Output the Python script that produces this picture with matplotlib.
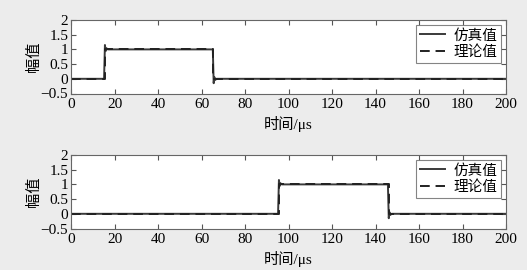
import matplotlib
matplotlib.use("Agg")
import matplotlib.pyplot as plt

plt.rcParams["font.family"] = ["Liberation Serif", "Noto Sans CJK SC"]
plt.rcParams["axes.unicode_minus"] = True

# simulated pulse (with edge ringing) and theoretical pulse, both panels
sim1_t = [0, 15.2, 15.6, 15.9, 16.3, 16.9, 65.2, 65.6, 65.9, 66.3, 66.9, 200]
sim1_y = [0, 0, 1.15, 0.94, 1.04, 1.0, 1.0, -0.15, 0.06, -0.04, 0, 0]
th1_t = [0, 15.5, 15.5, 65.5, 65.5, 200]
th1_y = [0, 0, 1, 1, 0, 0]

sim2_t = [0, 95.2, 95.6, 95.9, 96.3, 96.9, 145.7, 146.1, 146.4, 146.8, 147.4, 200]
sim2_y = [0, 0, 1.15, 0.94, 1.04, 1.0, 1.0, -0.15, 0.06, -0.04, 0, 0]
th2_t = [0, 95.5, 95.5, 146.0, 146.0, 200]
th2_y = [0, 0, 1, 1, 0, 0]

xticks = list(range(0, 201, 20))
yticks = [-0.5, 0, 0.5, 1, 1.5, 2]
ytick_labels = ["\u22120.5", "0", "0.5", "1", "1.5", "2"]

fig = plt.figure(figsize=(5.27, 2.70), dpi=100, facecolor="#ececec")
ax1 = fig.add_axes([71 / 527, 1 - 93.5 / 270, 435 / 527, 73.5 / 270])
ax2 = fig.add_axes([71 / 527, 1 - 228.5 / 270, 435 / 527, 73.5 / 270])

for ax, st, sy, tt, ty in [(ax1, sim1_t, sim1_y, th1_t, th1_y),
                           (ax2, sim2_t, sim2_y, th2_t, th2_y)]:
    ax.plot(st, sy, color="#3a3a3a", lw=1.4, label="仿真值")
    ax.plot(tt, ty, color="#222222", lw=1.4, ls=(0, (5, 3)), label="理论值")
    ax.set_xlim(0, 200)
    ax.set_ylim(-0.5, 2)
    ax.set_xticks(xticks)
    ax.set_yticks(yticks)
    ax.set_yticklabels(ytick_labels)
    ax.tick_params(direction="in", top=True, right=True, length=3.5,
                   labelsize=11, pad=2, color="#555555")
    ax.tick_params(axis="x", pad=3)
    for s in ax.spines.values():
        s.set_color("#666666")
        s.set_linewidth(0.8)
    ax.set_ylabel("幅值", fontsize=11)
    ax.yaxis.set_label_coords(-0.07, 0.5)
    ax.set_xlabel("时间/μs", fontsize=11, labelpad=4)
    leg = ax.legend(loc="upper right", fontsize=10.5, frameon=True, fancybox=False,
                    handlelength=1.7, borderpad=0.25, labelspacing=0.2,
                    handletextpad=0.6, borderaxespad=0.35)
    leg.get_frame().set_edgecolor("#666666")
    leg.get_frame().set_linewidth(0.8)

fig.savefig("out.png", dpi=100, facecolor=fig.get_facecolor())
